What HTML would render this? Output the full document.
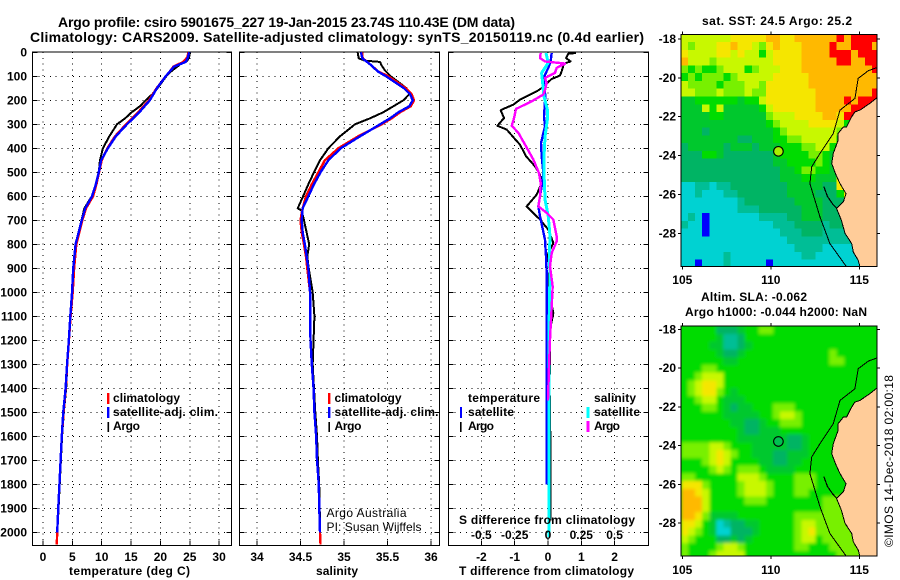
<!DOCTYPE html>
<html lang="en">
<head>
<meta charset="utf-8">
<title>Argo profile csiro 5901675_227</title>
<style>
html,body{margin:0;padding:0;background:#fff;}
svg{display:block;font-family:"Liberation Sans",sans-serif;}
text{fill:#000;}
.b{font-weight:bold;font-size:12px;}
.t{font-weight:bold;font-size:14px;}
.r{font-size:12px;}
</style>
</head>
<body>
<svg id="chart" xmlns="http://www.w3.org/2000/svg" width="900" height="580" viewBox="0 0 900 580">
  <defs>
    <clipPath id="clip-p1"><rect x="33" y="52" width="198" height="493"/></clipPath>
    <clipPath id="clip-p2"><rect x="240" y="52" width="199" height="493"/></clipPath>
    <clipPath id="clip-p3"><rect x="449" y="52" width="199" height="493"/></clipPath>
    <clipPath id="clip-m1"><rect x="681" y="34" width="196" height="233"/></clipPath>
    <clipPath id="clip-m2"><rect x="681" y="326" width="196" height="230"/></clipPath>
    <filter id="smooth" x="-5%" y="-5%" width="110%" height="110%"><feGaussianBlur stdDeviation="1.6"/></filter>
  </defs>

  <rect x="0" y="0" width="900" height="580" fill="#fff"/>

  <text class="t" x="58" y="27" textLength="457" lengthAdjust="spacing">Argo profile: csiro 5901675_227 19-Jan-2015 23.74S 110.43E (DM data)</text>
  <text class="t" x="30" y="42" textLength="614" lengthAdjust="spacing">Climatology: CARS2009. Satellite-adjusted climatology: synTS_20150119.nc (0.4d earlier)</text>

  <g id="panels"></g>
  <g id="maps"></g>

  <text class="b" x="69" y="575" textLength="121" lengthAdjust="spacing">temperature (deg C)</text>
  <text class="b" x="316" y="575" textLength="42" lengthAdjust="spacing">salinity</text>
  <text class="b" x="459" y="575" textLength="175" lengthAdjust="spacing">T difference from climatology</text>
  <text class="b" x="459" y="524" textLength="176" lengthAdjust="spacing">S difference from climatology</text>

  <g>
    <rect x="107" y="393" width="2.4" height="11" fill="#f00"/>
    <text class="b" x="113" y="402" textLength="67" lengthAdjust="spacing">climatology</text>
    <rect x="107" y="407" width="2.4" height="11" fill="#00f"/>
    <text class="b" x="113" y="416" textLength="105" lengthAdjust="spacing">satellite-adj. clim.</text>
    <rect x="107.5" y="422" width="1.6" height="10" fill="#000"/>
    <text class="b" x="113" y="430" textLength="27" lengthAdjust="spacing">Argo</text>
  </g>
  <g>
    <rect x="328" y="393" width="2.4" height="11" fill="#f00"/>
    <text class="b" x="334.5" y="402" textLength="67" lengthAdjust="spacing">climatology</text>
    <rect x="328" y="407" width="2.4" height="11" fill="#00f"/>
    <text class="b" x="334.5" y="416" textLength="104" lengthAdjust="spacing">satellite-adj. clim.</text>
    <rect x="328.4" y="422" width="1.6" height="10" fill="#000"/>
    <text class="b" x="334.5" y="430" textLength="27" lengthAdjust="spacing">Argo</text>
    <text class="r" x="326.5" y="517" textLength="80" lengthAdjust="spacing">Argo Australia</text>
    <text class="r" x="326.5" y="531" textLength="95" lengthAdjust="spacing">PI: Susan Wijffels</text>
  </g>
  <g>
    <text class="b" x="468" y="402" textLength="72" lengthAdjust="spacing">temperature</text>
    <rect x="460" y="407" width="2" height="11" fill="#00f"/>
    <text class="b" x="468" y="416" textLength="46" lengthAdjust="spacing">satellite</text>
    <rect x="460" y="422" width="1.6" height="10" fill="#000"/>
    <text class="b" x="468" y="430" textLength="26" lengthAdjust="spacing">Argo</text>
    <text class="b" x="594" y="402" textLength="42" lengthAdjust="spacing">salinity</text>
    <rect x="586.5" y="407" width="3" height="11" fill="#0ff"/>
    <text class="b" x="594" y="416" textLength="46" lengthAdjust="spacing">satellite</text>
    <rect x="586.5" y="421" width="3" height="11" fill="#f0f"/>
    <text class="b" x="594" y="430" textLength="26" lengthAdjust="spacing">Argo</text>
  </g>

  <text class="b" x="702" y="25" textLength="150" lengthAdjust="spacing">sat. SST: 24.5 Argo: 25.2</text>
  <text class="b" x="701" y="301" textLength="106" lengthAdjust="spacing">Altim. SLA: -0.062</text>
  <text class="b" x="685" y="316" textLength="182" lengthAdjust="spacing">Argo h1000: -0.044 h2000: NaN</text>
  <text class="r" transform="translate(893,547) rotate(-90)" x="0" y="0" textLength="172" lengthAdjust="spacing">©IMOS 14-Dec-2018 02:00:18</text>

<script>
// ---------- axis tick labels ----------
const depthTicks = [0,100,200,300,400,500,600,700,800,900,1000,1100,1200,1300,1400,1500,1600,1700,1800,1900,2000];
const tempTicks = [0,5,10,15,20,25,30];
const salTicks = [34,34.5,35,35.5,36];
const tDiffTicks = [-2,-1,0,1,2];
const sDiffTicks = [-0.5,-0.25,0,0.25,0.5];
const lonTicks = [105,110,115];
const latTicks = [-18,-20,-22,-24,-26,-28];

// ---------- temperature profiles ----------
const tempDepths = [0,20,40,50,60,80,100,150,200,250,300,350,400,450,500,550,600,650,700,800,900,1000,1100,1200,1300,1400,1500,1600,1700,1800,1900,2000,2050];
const tempClim = [24.8,24.6,23.9,23.05,22.2,21.6,20.9,19.35,18.05,16.2,14.15,12.27,10.96,10,9.55,9.1,8.52,7.33,6.7,5.67,5.3,5.06,4.7,4.42,4.12,3.88,3.5,3.2,3,2.8,2.6,2.42,2.35];
const tempSat = [24.9,24.7,24.3,23.3,22.3,21.6,20.9,19.4,18.2,16.4,14.3,12.4,11.05,9.9,9.5,9,8.35,7.2,6.6,5.55,5.15,4.95,4.65,4.4,4.1,3.85,3.45,3.2,3,2.8,2.6,2.42];
const tempArgoDepths = [0,20,35,50,80,100,150,175,200,225,250,275,300,350,400,450,500,550,600,650,700,800,900,1000,1100,1200,1300,1400,1500,1600,1700,1800,1900,1950];
const tempArgo = [25.05,24.9,24.6,23.4,21.8,21,19.5,18.6,17.5,16.5,15.1,14,12.6,11.3,10.2,9.7,9.5,9,8.3,7.05,6.55,5.6,5.2,4.95,4.65,4.4,4.15,3.95,3.55,3.25,3.05,2.85,2.65,2.55];

// ---------- salinity profiles ----------
const salDepths = [0,25,50,80,100,150,175,200,225,250,275,300,350,400,450,500,550,600,650,700,750,800,850,900,1000,1100,1200,1300,1400,1500,1600,1700,1800,1900,2000,2050];
const salClim = [35.207,35.215,35.3,35.394,35.51,35.713,35.778,35.805,35.767,35.644,35.548,35.433,35.165,34.935,34.78,34.705,34.63,34.563,34.525,34.5,34.514,34.54,34.563,34.578,34.61,34.61,34.615,34.63,34.65,34.66,34.68,34.69,34.71,34.716,34.724,34.73];
const salSat = [35.195,35.21,35.3,35.39,35.483,35.69,35.76,35.79,35.75,35.625,35.53,35.414,35.184,34.962,34.82,34.73,34.655,34.59,34.525,34.514,34.525,34.55,34.57,34.59,34.61,34.61,34.615,34.63,34.65,34.66,34.68,34.69,34.71,34.716,34.724];
const salArgoDepths = [0,25,35,40,55,75,100,150,175,200,225,250,275,300,350,400,450,500,550,600,650,660,700,750,800,850,900,1000,1100,1200,1300,1400,1500,1600,1700,1800,1900,1950];
const salArgo = [35.157,35.169,35.241,35.414,35.433,35.47,35.537,35.72,35.75,35.682,35.567,35.45,35.3,35.126,34.954,34.82,34.724,34.655,34.59,34.53,34.468,34.514,34.54,34.57,34.6,34.578,34.594,34.64,34.66,34.65,34.64,34.655,34.67,34.69,34.7,34.715,34.72,34.725];

// ---------- difference profiles ----------
const dtArgoDepths = [3,6,24,38,47,79,97,111,149,163,176,197,218,236,242,274,306,322,357,385,433,475,510,544,593,642,697,739,794,836,892,947,1017,1086,1142,1197,1400,1600,1900,1950];
const dtArgo = [0.84,0.61,0.54,0.68,0.48,0.41,0.36,0.11,-0.19,-0.34,-0.54,-0.84,-1.04,-1.34,-1.42,-1.32,-1.52,-1.24,-1.02,-0.84,-0.66,-0.39,-0.24,-0.19,-0.34,-0.64,-0.24,0.01,0.16,0.01,-0.06,0.01,0.06,0.16,0.08,0.06,0.05,0.07,0.07,0.07];
const dtSatDepths = [3,38,65,93,128,183,267,308,378,433,503,558,642,683,781,850,919,1197,1500,1800];
const dtSat = [0.11,0.08,0.01,-0.09,-0.12,-0.08,-0.12,-0.09,-0.21,-0.19,-0.14,-0.19,-0.29,-0.24,-0.09,-0.06,-0.04,-0.04,-0.04,-0.04];
const dsArgoDepths = [3,24,38,47,65,86,107,128,156,176,204,236,274,306,336,385,447,503,544,600,642,669,697,767,788,836,892,975,1058,1142,1197,1300,1450];
const dsArgo = [-0.055,-0.06,-0.022,0.128,0.065,0.052,-0.022,-0.01,-0.022,-0.035,-0.122,-0.24,-0.255,-0.272,-0.222,-0.172,-0.11,-0.068,-0.055,-0.06,-0.072,-0.01,0.04,0.065,0.065,0.028,0.015,0.035,0.028,0.02,0.015,0.008,0];
const dsSatDepths = [3,44,86,128,183,239,281,350,433,503,614,683,767,850,919,1197,2020];
const dsSat = [-0.015,0.002,-0.048,-0.04,-0.03,-0.005,-0.005,-0.022,-0.03,-0.03,-0.022,0.002,0.015,0.01,0.015,0.006,0.006];

// ---------- map data: colour level per 0.4 degree cell ----------
const sstLevels = [
[7,7,7,7,7,7,7,8,8,8,8,8,9,9,8,8,9,9,9,9,9,9,10,9,10,10,10,10],
[7,6,7,7,7,8,8,9,8,8,7,6,8,9,8,8,8,9,9,9,9,10,9,9,10,10,10,9],
[8,7,7,7,7,8,8,7,8,7,7,5,7,8,8,8,8,9,9,9,9,10,10,10,9,10,10,10],
[9,7,7,7,6,7,7,7,7,7,7,7,7,8,8,8,8,9,9,9,9,9,10,10,9,9,10,10],
[6,5,6,5,5,6,7,7,7,5,6,7,7,7,8,8,8,9,9,9,9,9,9,9,9,9,9,10],
[5,6,5,6,6,6,5,6,7,7,7,7,7,8,8,8,8,8,9,9,9,9,9,9,9,9,9,9],
[7,6,6,6,6,5,6,6,6,7,7,6,8,8,8,8,8,8,9,9,9,9,9,9,9,9,9,9],
[7,7,6,6,6,7,6,6,6,7,6,6,8,8,8,8,8,8,8,9,9,9,9,9,9,9,9,10],
[4,4,5,5,5,5,5,5,4,5,5,7,8,8,8,8,8,8,8,9,9,9,9,10,9,10,10,10],
[4,4,4,7,5,7,4,4,4,4,4,5,7,8,8,8,8,8,8,9,9,9,9,9,10,10,10,10],
[4,4,4,4,5,5,4,4,4,4,4,4,6,7,7,7,8,8,8,8,9,9,8,10,10,10,10,10],
[4,4,4,4,4,4,4,4,4,4,4,4,5,6,7,7,7,7,8,8,8,8,7,5,5,5,5,5],
[4,4,4,3,4,4,4,4,4,4,4,4,4,5,6,7,7,7,7,7,7,7,6,5,5,5,5,5],
[4,4,4,4,4,4,4,4,3,3,4,4,4,5,5,6,6,7,7,7,7,7,5,5,5,5,5,5],
[3,4,4,4,4,4,3,4,4,4,3,4,4,4,5,5,5,6,6,7,7,5,4,4,4,4,4,4],
[3,3,3,5,5,4,3,3,3,3,3,3,3,4,5,5,5,5,6,6,5,4,4,4,4,4,4,4],
[3,3,3,3,3,3,3,3,3,3,3,3,3,4,4,5,5,5,5,6,5,4,4,4,4,4,4,4],
[3,3,3,3,3,3,3,3,3,3,3,3,3,3,4,4,5,6,6,5,5,4,8,8,8,8,8,8],
[3,3,3,3,3,3,3,3,3,3,3,3,3,3,4,4,4,5,5,4,4,4,8,8,8,8,8,8],
[1,1,2,2,1,2,2,3,3,3,3,3,3,3,3,4,4,4,4,4,3,3,8,5,8,8,8,8],
[1,1,2,1,1,1,2,2,3,3,3,3,3,3,3,4,4,4,4,3,3,3,5,8,8,8,8,8],
[1,1,1,1,1,1,1,1,2,3,3,3,3,3,3,3,4,4,4,4,3,3,3,4,4,4,4,4],
[1,1,1,1,1,1,1,1,2,2,2,3,3,3,3,3,3,4,4,4,3,3,3,3,3,3,3,3],
[1,2,1,0,1,1,1,1,1,1,1,2,2,2,2,3,3,4,4,4,3,3,3,3,3,3,3,3],
[2,1,1,0,1,1,1,1,1,1,1,1,1,2,2,2,3,3,3,3,2,3,3,3,3,3,3,3],
[1,1,1,0,1,1,1,1,1,1,1,1,1,1,2,2,2,3,3,3,2,2,2,2,2,2,2,2],
[1,1,1,1,1,1,1,1,1,1,1,1,1,1,1,2,2,2,2,2,2,2,2,2,2,2,2,2],
[1,1,1,1,1,1,1,1,1,1,1,1,1,1,1,1,2,2,2,2,1,1,1,1,1,1,1,1],
[1,1,1,1,1,1,2,1,1,1,1,1,1,1,1,1,1,2,2,1,1,1,1,1,1,1,1,1],
[1,1,0,1,1,1,2,1,1,1,1,1,0,1,1,1,1,1,1,1,1,1,1,1,1,1,1,1]
];
const slaLevels = [
[5,5,5,5,5,3,3,3,4,5,5,6,6,5,5,5,5,5,5,5,5,5,5,5,5,5,5,5],
[5,5,5,5,5,4,2,2,3,5,5,5,5,5,5,5,5,5,5,5,5,5,5,5,5,5,5,5],
[5,5,5,5,4,4,2,2,3,4,5,5,5,5,5,5,5,5,5,5,5,5,5,5,5,5,5,5],
[5,5,5,5,5,4,3,3,4,5,5,5,5,5,5,5,5,5,5,5,5,6,5,5,5,5,5,5],
[5,5,5,5,5,5,4,4,5,5,5,5,5,5,5,5,5,5,5,5,5,6,6,5,5,5,5,5],
[5,5,5,6,6,5,5,5,5,5,5,5,5,5,5,5,5,5,5,5,5,5,5,5,5,5,5,5],
[5,5,6,7,7,7,5,5,5,5,5,5,5,5,5,5,5,5,5,5,5,5,5,5,5,5,5,5],
[5,6,7,8,8,7,5,5,5,5,5,5,5,5,5,5,5,5,5,5,5,5,5,5,5,5,5,5],
[5,6,7,8,8,6,5,4,5,5,5,5,5,5,5,5,5,5,5,5,5,5,5,5,5,5,5,5],
[5,5,6,7,7,5,4,4,4,5,5,5,5,5,5,5,5,5,5,5,5,5,5,5,5,5,5,5],
[5,5,5,6,6,5,4,3,4,4,5,5,5,6,6,6,5,5,5,5,5,5,5,5,5,5,5,5],
[5,5,5,5,5,5,4,4,4,4,4,5,5,6,7,7,6,5,5,5,5,5,5,5,5,5,5,5],
[5,5,5,5,5,5,5,4,4,3,3,4,5,5,6,6,6,5,5,5,5,5,5,5,5,5,5,5],
[5,5,5,5,5,5,5,5,4,3,3,4,4,4,5,5,5,5,5,5,5,5,5,5,5,5,5,5],
[5,5,5,5,5,5,5,5,4,4,4,4,4,4,4,3,3,4,5,5,5,5,5,5,5,5,5,5],
[6,6,6,6,7,7,6,5,5,5,4,4,4,4,4,3,3,4,5,5,5,5,5,5,5,5,5,5],
[6,6,6,6,7,8,7,6,5,5,4,4,4,3,3,4,4,4,5,5,5,5,5,5,5,5,5,5],
[5,5,5,6,7,8,7,5,5,5,5,4,4,3,3,4,4,5,5,5,5,5,5,5,5,5,5,5],
[5,5,5,5,6,7,6,5,6,6,6,5,4,4,4,4,5,5,5,5,5,5,5,5,5,5,5,5],
[6,6,5,5,5,5,5,5,7,7,7,6,5,5,5,5,6,6,6,5,5,5,5,5,5,5,5,5],
[8,8,8,6,5,5,5,5,6,7,7,7,6,5,5,5,6,6,6,5,5,5,5,5,5,5,5,5],
[9,9,8,7,5,5,5,5,6,7,7,7,6,5,5,5,6,6,5,5,5,5,5,5,5,5,5,5],
[9,9,9,7,5,5,5,5,5,6,6,6,5,5,5,5,5,5,5,5,6,6,6,6,6,5,5,5],
[9,9,9,7,5,5,5,5,5,5,5,5,5,5,5,5,5,5,5,5,6,6,6,6,6,5,5,5],
[9,9,8,6,4,4,4,4,5,5,5,5,5,5,5,5,6,6,6,6,6,6,6,6,6,5,5,5],
[8,8,7,5,4,1,2,3,3,4,4,5,5,5,5,5,6,7,7,6,6,6,6,6,6,5,5,5],
[8,7,6,5,4,1,1,3,3,3,4,5,5,5,5,5,6,7,8,6,6,6,6,6,6,6,5,5],
[7,6,5,5,5,3,3,4,3,4,5,5,5,5,5,5,6,7,7,5,6,6,6,6,6,6,6,5],
[6,5,5,5,5,6,7,7,6,5,5,5,5,5,5,5,6,6,5,5,5,6,6,6,6,6,6,5],
[6,5,5,5,6,7,7,7,7,5,5,5,5,5,5,5,5,5,5,5,5,5,6,6,6,6,6,6]
];
const levelColors = ["#0000ff","#00d2d2","#00be96","#00b464","#00c82d","#00dc00","#78f000","#c8f800","#f5e600","#ffb900","#ff0000"];

// ---------- geography ----------
const landLon = [116.02,115.6,115.04,114.75,114.57,114.28,114.1,113.81,113.81,113.53,113.44,113.65,113.91,114.25,114.1,113.72,113.99,114.19,114.57,114.66,114.94,115.04,116.02];
const landLat = [-21,-21.31,-21.66,-21.75,-22,-22.52,-22.52,-22.86,-23.2,-23.89,-24.4,-24.92,-25.44,-25.96,-26.38,-26.73,-27.33,-28,-28.53,-28.96,-29.39,-29.73,-29.73];
const isobathLon = [116.02,115.51,114.94,114.75,113.91,113.53,112.78,112.31,112.21,112.78,113.34,114.28];
const isobathLat = [-19.46,-19.63,-20.03,-21.06,-21.66,-22.86,-23.89,-24.58,-25.44,-27.16,-28.53,-29.73];
const islandLon = [113,113.2,113.5,113.72];
const islandLat = [-25.6,-26.1,-26.5,-26.7];
const floatLon = 110.43;
const floatLat = -23.74;

// ---------- axis functions ----------
const yDepth = d => 52.3 + 0.24 * d;
const xTemp = v => 43 + 5.87 * v;
const xSal = v => 257 + 87 * (v - 34);
const xDT = v => 548 + 33.3 * v;
const xDS = v => 548 + 133.2 * v;
const xLon = lon => 682.3 + 17.7 * (lon - 105);
const yLatSst = lat => 39 + 19.43 * (-18 - lat);
const yLatSla = lat => 329.5 + 19.37 * (-18 - lat);

const NS = "http://www.w3.org/2000/svg";
function mk(parent, tag, attrs, txt) {
  const el = document.createElementNS(NS, tag);
  for (const k in attrs) el.setAttribute(k, attrs[k]);
  if (txt !== undefined) el.textContent = txt;
  parent.appendChild(el);
  return el;
}

function drawSeries(g, name, depths, vals, xf, color, w) {
  const pts = vals.map((v, i) => xf(v).toFixed(2) + "," + yDepth(depths[i]).toFixed(2)).join(" ");
  const line = mk(g, "polyline", {points: pts, fill: "none", stroke: color, "stroke-width": w, "stroke-linejoin": "round", "shape-rendering": "crispEdges"});
  
  
}

function drawPanel(id, left, right, ticks, xf, labels) {
  const root = document.getElementById("panels");
  const g = mk(root, "g", {});
  
  
  const top = 52, bottom = 545.5;
  depthTicks.forEach(d => {
    const y = yDepth(d);
    if (d > 0) {
      const gl = mk(g, "line", {x1: left, x2: right, y1: y, y2: y, stroke: "#000", "stroke-width": 1, "stroke-dasharray": "1 4.8", "shape-rendering": "crispEdges"});
      
      
    }
    const t1 = mk(g, "line", {x1: left, x2: left + 5, y1: y, y2: y, stroke: "#000", "stroke-width": 1, "shape-rendering": "crispEdges"});
    
    
    const t2 = mk(g, "line", {x1: right - 5, x2: right, y1: y, y2: y, stroke: "#000", "stroke-width": 1, "shape-rendering": "crispEdges"});
    
    
  });
  ticks.forEach((t, i) => {
    const x = xf(t);
    const gl = mk(g, "line", {x1: x, x2: x, y1: top, y2: bottom, stroke: "#000", "stroke-width": 1, "stroke-dasharray": "1 4.8", "shape-rendering": "crispEdges"});
    
    
    const tk = mk(g, "line", {x1: x, x2: x, y1: bottom - 5, y2: bottom, stroke: "#000", "stroke-width": 1, "shape-rendering": "crispEdges"});
    
    
    const lb = mk(g, "text", {x: x, y: 561, "text-anchor": "middle", "class": "b"}, labels[i]);
    
    
  });
  const box = mk(g, "rect", {x: left, y: top, width: right - left, height: bottom - top, fill: "none", stroke: "#000", "stroke-width": 1, "shape-rendering": "crispEdges"});
  
  
  const s = mk(g, "g", {"clip-path": "url(#clip-" + id + ")"});
  
  
  return s;
}

// depth labels
const rootPanels = document.getElementById("panels");
depthTicks.forEach(d => {
  const lb = mk(rootPanels, "text", {x: 27, y: yDepth(d) + 4, "text-anchor": "end", "class": "b"}, d);
  
  
});

const p1 = drawPanel("p1", 32.5, 231.5, tempTicks, xTemp, tempTicks);
drawSeries(p1, "temperature-argo-line", tempArgoDepths, tempArgo, xTemp, "#000", 2);
drawSeries(p1, "temperature-climatology-line", tempDepths, tempClim, xTemp, "#f00", 2.4);
drawSeries(p1, "temperature-satellite-line", tempDepths, tempSat, xTemp, "#00f", 2.4);

const p2 = drawPanel("p2", 239.5, 439.5, salTicks, xSal, salTicks);
drawSeries(p2, "salinity-argo-line", salArgoDepths, salArgo, xSal, "#000", 2);
drawSeries(p2, "salinity-climatology-line", salDepths, salClim, xSal, "#f00", 2.4);
drawSeries(p2, "salinity-satellite-line", salDepths, salSat, xSal, "#00f", 2.4);

const p3 = drawPanel("p3", 448.5, 648.5, tDiffTicks, xDT, tDiffTicks);
drawSeries(p3, "t-difference-argo-line", dtArgoDepths, dtArgo, xDT, "#000", 2);
drawSeries(p3, "t-difference-satellite-line", dtSatDepths, dtSat, xDT, "#00f", 2.4);
drawSeries(p3, "s-difference-satellite-line", dsSatDepths, dsSat, xDS, "#0ff", 3);
drawSeries(p3, "s-difference-argo-line", dsArgoDepths, dsArgo, xDS, "#f0f", 2.4);
sDiffTicks.forEach(t => {
  const lb = mk(rootPanels, "text", {x: xDS(t), y: 539, "text-anchor": "middle", "class": "b"}, t);
  
  
});

function drawMap(id, levels, yLat, lonStart, latStart, frameTop, frameBottom, blur, circleFill, labelY) {
  const root = document.getElementById("maps");
  const g = mk(root, "g", {});
  
  
  const left = 681, right = 877;
  const clip = mk(g, "g", {"clip-path": "url(#clip-" + (id === "sst" ? "m1" : "m2") + ")"});
  const base = mk(clip, "rect", {x: left, y: frameTop, width: right - left, height: frameBottom - frameTop, fill: levelColors[5]});
  
  
  const cells = mk(clip, "g", blur ? {filter: "url(#smooth)"} : {});
  levels.forEach((row, r) => {
    row.forEach((lv, c) => {
      const x0 = xLon(lonStart + c * 0.4), x1 = xLon(lonStart + (c + 1) * 0.4);
      const y0 = yLat(latStart - r * 0.4), y1 = yLat(latStart - (r + 1) * 0.4);
      const cell = mk(cells, "rect", {x: x0.toFixed(2), y: y0.toFixed(2), width: (x1 - x0 + 0.3).toFixed(2), height: (y1 - y0 + 0.3).toFixed(2), fill: levelColors[lv], "shape-rendering": "crispEdges"});
      
      
    });
  });
  const land = mk(clip, "polygon", {points: landLon.map((v, i) => xLon(v).toFixed(1) + "," + yLat(landLat[i]).toFixed(1)).join(" "), fill: "#ffcc99", stroke: "#000", "stroke-width": 1, "shape-rendering": "crispEdges"});
  
  
  const iso = mk(clip, "polyline", {points: isobathLon.map((v, i) => xLon(v).toFixed(1) + "," + yLat(isobathLat[i]).toFixed(1)).join(" "), fill: "none", stroke: "#000", "stroke-width": 1, "shape-rendering": "crispEdges"});
  
  
  const isl = mk(clip, "polyline", {points: islandLon.map((v, i) => xLon(v).toFixed(1) + "," + yLat(islandLat[i]).toFixed(1)).join(" "), fill: "none", stroke: "#000", "stroke-width": 1.2, "shape-rendering": "crispEdges"});
  
  
  const circ = mk(g, "circle", {cx: xLon(floatLon), cy: yLat(floatLat) + 0.8, r: 4.8, fill: circleFill, stroke: "#000", "stroke-width": 1.1});
  
  
  const box = mk(g, "rect", {x: left, y: frameTop, width: right - left, height: frameBottom - frameTop, fill: "none", stroke: "#000", "stroke-width": 1, "shape-rendering": "crispEdges"});
  
  
  lonTicks.forEach(t => {
    const x = xLon(t);
    const t1 = mk(g, "line", {x1: x, x2: x, y1: frameTop - 3, y2: frameTop, stroke: "#000", "shape-rendering": "crispEdges"});
    
    
    const t2 = mk(g, "line", {x1: x, x2: x, y1: frameBottom, y2: frameBottom + 3, stroke: "#000", "shape-rendering": "crispEdges"});
    
    
    const lb = mk(g, "text", {x: x, y: labelY, "text-anchor": "middle", "class": "b"}, t);
    
    
  });
  latTicks.forEach(t => {
    const y = yLat(t);
    const t1 = mk(g, "line", {x1: left - 3, x2: left, y1: y, y2: y, stroke: "#000", "shape-rendering": "crispEdges"});
    
    
    const t2 = mk(g, "line", {x1: right, x2: right + 3, y1: y, y2: y, stroke: "#000", "shape-rendering": "crispEdges"});
    
    
    const lb = mk(g, "text", {x: 676, y: y + 4, "text-anchor": "end", "class": "b"}, t);
    
    
  });
}

drawMap("sst", sstLevels, yLatSst, 104.925, -17.76, 34.5, 266.5, false, "#a8f000", 284);
drawMap("sla", slaLevels, yLatSla, 104.925, -17.83, 326, 556, true, "#00c050", 574);
</script>
</svg>
</body>
</html>
